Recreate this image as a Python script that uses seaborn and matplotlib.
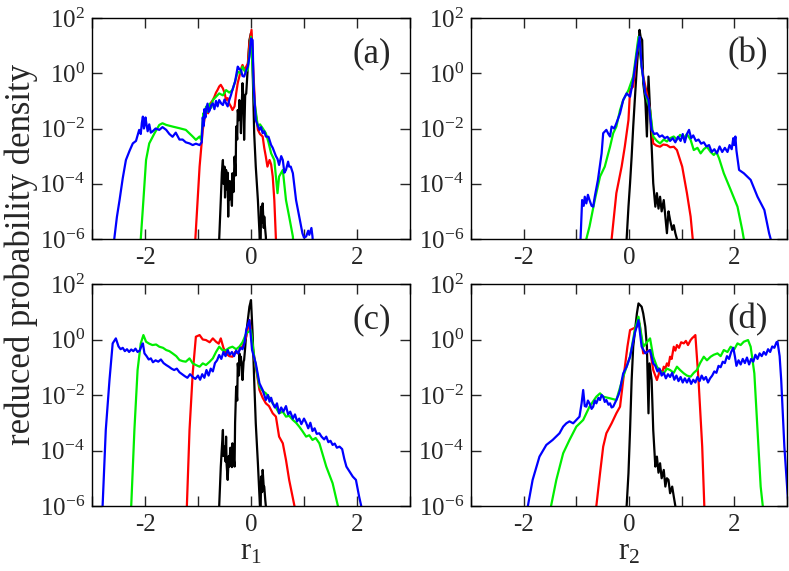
import numpy as np
import pandas as pd
import matplotlib
matplotlib.use("Agg")
import matplotlib.pyplot as plt
import seaborn as sns
from matplotlib.ticker import FixedLocator, FuncFormatter

# ---------------- data (x, log10 of density) ----------------
# panel (a)
a_black_x = [-0.61,-0.60,-0.57,-0.55,-0.53,-0.52,-0.50,-0.49,-0.47,-0.46,-0.44,-0.43,-0.42,-0.41,-0.40,-0.38,-0.36,-0.35,-0.33,-0.31,-0.29,-0.28,-0.26,-0.25,-0.23,-0.22,-0.20,-0.19,-0.17,-0.16,-0.14,-0.13,-0.11,-0.09,-0.06,-0.03,0.0,0.03,0.06,0.09,0.13,0.16,0.17,0.18,0.19,0.21,0.22,0.24,0.25,0.27,0.28,0.29]
a_black_ly = [-6.5,-6.0,-4.59,-3.6,-3.14,-4.0,-3.38,-4.5,-3.5,-4.2,-3.6,-5.19,-4.0,-4.59,-3.9,-4.10,-4.8,-3.62,-4.3,-3.02,-3.7,-1.93,-2.4,-1.33,-1.7,-0.97,-1.5,-2.17,-0.9,-0.36,-1.0,-2.41,-0.8,-0.73,0.24,1.20,1.45,0.24,-2.17,-3.38,-4.59,-5.79,-6.5,-6.5,-4.83,-5.4,-4.71,-5.6,-5.19,-5.7,-5.91,-6.5]
a_red_x = [-1.06,-1.05,-0.97,-0.91,-0.88,-0.85,-0.81,-0.78,-0.75,-0.72,-0.69,-0.66,-0.63,-0.60,-0.57,-0.53,-0.50,-0.47,-0.44,-0.41,-0.38,-0.35,-0.31,-0.28,-0.25,-0.22,-0.19,-0.16,-0.12,-0.09,-0.06,-0.03,0.01,0.04,0.08,0.13,0.17,0.22,0.25,0.28,0.31,0.35,0.38,0.41,0.44,0.47,0.48]
a_red_ly = [-6.5,-6.0,-3.38,-2.05,-1.69,-1.33,-1.45,-1.2,-1.05,-0.97,-0.85,-0.7,-0.6,-0.48,-0.42,-0.55,-0.7,-0.97,-0.9,-1.1,-1.2,-1.33,-1.2,-0.73,-0.35,-0.12,0.15,0.30,0.1,0.24,0.35,1.08,1.57,0.24,-1.33,-2.05,-2.2,-2.29,-2.7,-3.02,-3.38,-3.14,-3.3,-3.74,-4.59,-6.0,-6.5]
a_green_x = [-2.09,-2.08,-2.03,-1.98,-1.92,-1.82,-1.73,-1.67,-1.60,-1.48,-1.35,-1.23,-1.10,-1.04,-0.97,-0.94,-0.90,-0.87,-0.85,-0.81,-0.78,-0.75,-0.72,-0.66,-0.60,-0.53,-0.47,-0.41,-0.35,-0.30,-0.25,-0.20,-0.16,-0.11,-0.06,0.0,0.06,0.13,0.17,0.22,0.28,0.33,0.38,0.44,0.50,0.53,0.60,0.66,0.72,0.79,0.81]
a_green_ly = [-6.5,-6.0,-4.59,-3.14,-2.54,-2.17,-1.87,-1.81,-1.87,-1.93,-1.99,-2.05,-2.29,-2.41,-2.29,-2.41,-1.45,-1.6,-1.21,-1.4,-1.1,-1.25,-0.97,-0.85,-0.73,-0.8,-0.61,-0.7,-0.61,-0.3,0.06,0.0,0.24,0.05,0.12,1.32,-0.97,-1.93,-1.85,-1.99,-2.17,-2.5,-2.9,-3.14,-4.34,-3.74,-3.50,-4.59,-5.19,-5.91,-6.5]
a_blue_x = [-2.62,-2.58,-2.53,-2.48,-2.42,-2.36,-2.29,-2.23,-2.17,-2.11,-2.08,-2.06,-2.04,-2.02,-2.01,-1.99,-1.98,-1.95,-1.92,-1.89,-1.86,-1.80,-1.73,-1.67,-1.60,-1.54,-1.48,-1.42,-1.35,-1.29,-1.23,-1.16,-1.10,-1.04,-0.97,-0.93,-0.91,-0.89,-0.88,-0.86,-0.85,-0.82,-0.80,-0.78,-0.75,-0.72,-0.69,-0.66,-0.63,-0.60,-0.56,-0.53,-0.50,-0.47,-0.44,-0.41,-0.38,-0.35,-0.30,-0.25,-0.22,-0.19,-0.16,-0.13,-0.09,-0.06,-0.03,0.0,0.03,0.05,0.09,0.13,0.16,0.19,0.22,0.25,0.28,0.33,0.38,0.41,0.47,0.50,0.53,0.57,0.60,0.63,0.66,0.70,0.72,0.75,0.79,0.85,0.91,0.97,1.00,1.04,1.08,1.10,1.14,1.16,1.18]
a_blue_ly = [-6.5,-6.0,-5.2,-4.59,-3.8,-3.14,-2.8,-2.54,-2.45,-2.05,-2.2,-1.8,-1.57,-2.0,-1.9,-1.6,-1.75,-2.1,-1.85,-2.15,-2.11,-2.0,-2.05,-1.95,-2.05,-2.2,-2.3,-2.15,-2.4,-2.4,-2.5,-2.54,-2.6,-2.55,-2.6,-2.5,-1.6,-1.9,-1.3,-1.6,-1.33,-1.1,-1.4,-1.35,-1.15,-1.09,-1.3,-1.0,-1.2,-0.97,-1.1,-1.15,-0.95,-1.09,-1.2,-0.97,-0.8,-0.6,-0.3,0.24,0.15,0.12,-0.1,-0.12,0.1,0.24,0.6,1.26,1.2,-0.48,-1.69,-1.9,-2.05,-1.95,-2.17,-2.1,-2.29,-2.3,-2.6,-2.7,-3.0,-3.1,-3.32,-3.0,-3.14,-3.6,-3.50,-3.2,-3.38,-3.38,-3.62,-4.59,-5.19,-5.79,-5.95,-5.91,-5.7,-5.85,-5.6,-5.91,-6.5]

# panel (b)
b_black_x = [-0.05,-0.045,-0.01,0.02,0.05,0.08,0.11,0.15,0.20,0.22,0.25,0.27,0.31,0.34,0.37,0.40,0.43,0.46,0.50,0.53,0.56,0.59,0.62,0.66,0.69,0.72,0.75,0.78,0.82,0.85,0.88,0.91,0.92]
b_black_ly = [-6.5,-6.0,-4.83,-3.98,-3.02,-1.93,-0.97,0.24,1.57,1.32,1.20,-0.36,-0.97,-2.29,-0.12,-1.33,-2.66,-3.98,-4.83,-4.34,-4.9,-4.47,-5.0,-4.59,-5.19,-5.79,-5.0,-5.31,-5.67,-5.5,-5.79,-6.0,-6.5]
b_red_x = [-0.34,-0.33,-0.24,-0.14,-0.08,-0.01,0.02,0.08,0.18,0.27,0.34,0.40,0.46,0.52,0.59,0.65,0.72,0.78,0.85,0.91,1.01,1.10,1.17,1.21,1.22]
b_red_ly = [-6.5,-6.0,-4.34,-3.38,-2.66,-1.69,-0.61,-0.48,1.20,-0.12,-0.73,-1.33,-2.54,-2.62,-2.66,-2.58,-2.60,-2.68,-2.66,-2.78,-3.38,-4.34,-5.19,-6.0,-6.5]
b_green_x = [-0.82,-0.81,-0.75,-0.65,-0.55,-0.46,-0.36,-0.30,-0.24,-0.17,-0.11,-0.01,0.08,0.18,0.24,0.31,0.40,0.46,0.53,0.59,0.66,0.72,0.78,0.85,0.91,0.97,1.04,1.10,1.17,1.23,1.30,1.36,1.42,1.48,1.55,1.61,1.66,1.71,1.80,1.93,2.06,2.15,2.18,2.19]
b_green_ly = [-6.5,-6.0,-5.55,-4.59,-3.74,-3.38,-2.66,-2.17,-1.93,-1.33,-0.97,-0.61,-0.12,1.32,0.24,-0.73,-1.33,-2.29,-2.45,-2.54,-2.4,-2.47,-2.35,-2.29,-2.4,-2.23,-2.35,-2.2,-2.41,-2.78,-2.7,-2.90,-2.75,-2.66,-2.85,-2.96,-2.85,-3.08,-3.62,-4.22,-4.83,-5.67,-6.0,-6.5]
b_blue_x = [-0.93,-0.92,-0.89,-0.86,-0.84,-0.81,-0.78,-0.75,-0.71,-0.68,-0.65,-0.59,-0.52,-0.49,-0.43,-0.39,-0.36,-0.33,-0.28,-0.24,-0.17,-0.14,-0.11,-0.045,0.02,0.08,0.15,0.20,0.24,0.31,0.37,0.43,0.48,0.53,0.58,0.63,0.68,0.73,0.78,0.83,0.88,0.93,0.98,1.02,1.06,1.10,1.14,1.18,1.22,1.27,1.32,1.37,1.42,1.47,1.52,1.57,1.62,1.67,1.72,1.77,1.82,1.87,1.91,1.95,1.98,2.00,2.02,2.04,2.09,2.18,2.31,2.44,2.57,2.66,2.69,2.70]
b_blue_ly = [-6.5,-6.0,-4.59,-4.8,-4.47,-4.71,-4.4,-4.59,-4.8,-4.83,-4.47,-3.86,-2.90,-2.17,-2.05,-2.2,-2.29,-1.93,-2.0,-1.81,-1.45,-1.21,-0.97,-0.73,-0.85,-0.24,0.72,1.32,0.24,-0.73,-0.97,-2.05,-2.2,-2.17,-2.3,-2.25,-2.35,-2.3,-2.45,-2.35,-2.5,-2.3,-2.45,-2.2,-2.5,-2.2,-2.05,-2.35,-2.25,-2.45,-2.4,-2.55,-2.5,-2.65,-2.6,-2.85,-2.75,-2.9,-2.65,-2.85,-2.7,-2.85,-2.6,-2.75,-2.35,-2.6,-2.29,-2.8,-3.50,-3.62,-3.86,-4.47,-4.95,-5.79,-6.0,-6.5]

# panel (c)
c_black_x = [-0.61,-0.60,-0.57,-0.53,-0.52,-0.50,-0.48,-0.47,-0.46,-0.44,-0.42,-0.41,-0.39,-0.38,-0.36,-0.35,-0.33,-0.31,-0.30,-0.28,-0.26,-0.25,-0.23,-0.22,-0.20,-0.19,-0.17,-0.16,-0.14,-0.13,-0.11,-0.09,-0.03,0.0,0.03,0.06,0.09,0.13,0.16,0.18,0.19,0.21,0.22,0.24,0.25,0.27,0.28,0.29]
c_black_ly = [-6.5,-6.0,-4.58,-3.26,-4.2,-3.86,-4.4,-3.50,-4.5,-5.06,-4.2,-4.58,-3.9,-4.10,-4.6,-3.74,-4.2,-4.58,-3.0,-1.70,-2.2,-0.86,-1.3,-0.50,-0.9,-0.62,-1.3,-1.46,-0.8,-0.74,-0.3,0.22,1.18,1.42,0.22,-1.46,-3.02,-4.46,-5.66,-6.5,-4.94,-5.5,-4.70,-5.3,-5.30,-5.8,-6.0,-6.5]
c_red_x = [-1.22,-1.21,-1.16,-1.10,-1.04,-0.97,-0.91,-0.85,-0.78,-0.72,-0.66,-0.61,-0.57,-0.52,-0.47,-0.41,-0.35,-0.30,-0.25,-0.20,-0.16,-0.09,-0.03,0.03,0.09,0.16,0.22,0.28,0.34,0.41,0.47,0.53,0.60,0.66,0.72,0.82,0.83]
c_red_ly = [-6.5,-6.0,-3.26,-1.22,0.10,0.16,0.0,-0.02,-0.1,0.04,-0.08,-0.15,0.04,-0.3,-0.50,-0.6,-0.62,-0.45,-0.50,-0.3,-0.26,0.10,0.70,-0.26,-0.98,-1.82,-2.1,-2.30,-2.4,-2.66,-2.78,-3.50,-3.74,-4.34,-5.06,-6.0,-6.5]
c_green_x = [-2.27,-2.26,-2.20,-2.14,-2.08,-2.03,-1.98,-1.92,-1.86,-1.79,-1.73,-1.66,-1.60,-1.54,-1.48,-1.41,-1.35,-1.29,-1.23,-1.16,-1.10,-1.04,-0.97,-0.91,-0.85,-0.78,-0.72,-0.66,-0.60,-0.53,-0.47,-0.41,-0.35,-0.28,-0.22,-0.16,-0.09,0.0,0.06,0.16,0.22,0.28,0.35,0.41,0.47,0.53,0.60,0.66,0.72,0.79,0.85,0.91,0.97,1.04,1.10,1.16,1.22,1.29,1.42,1.54,1.64,1.65]
c_green_ly = [-6.5,-6.0,-3.26,-1.10,-0.14,0.16,-0.08,-0.15,-0.20,-0.18,-0.26,-0.3,-0.38,-0.42,-0.50,-0.6,-0.74,-0.78,-0.80,-0.68,-0.86,-0.92,-0.98,-0.86,-0.92,-0.8,-0.68,-0.45,-0.26,-0.4,-0.38,-0.3,-0.26,-0.35,-0.26,-0.1,0.22,0.34,-0.62,-1.70,-1.85,-1.94,-2.1,-2.30,-2.45,-2.66,-2.6,-2.78,-2.75,-2.90,-3.0,-3.14,-3.3,-3.50,-3.45,-3.62,-3.55,-3.74,-4.58,-5.18,-6.0,-6.5]
c_blue_x = [-2.81,-2.80,-2.74,-2.67,-2.61,-2.55,-2.50,-2.46,-2.42,-2.38,-2.34,-2.30,-2.26,-2.22,-2.18,-2.14,-2.10,-2.06,-2.04,-2.01,-1.97,-1.93,-1.89,-1.85,-1.80,-1.75,-1.70,-1.65,-1.60,-1.55,-1.50,-1.45,-1.40,-1.35,-1.30,-1.25,-1.20,-1.15,-1.10,-1.05,-1.00,-0.96,-0.92,-0.88,-0.84,-0.80,-0.76,-0.72,-0.68,-0.64,-0.60,-0.56,-0.52,-0.48,-0.44,-0.40,-0.36,-0.32,-0.28,-0.24,-0.20,-0.16,-0.12,-0.09,-0.03,0.02,0.09,0.16,0.22,0.28,0.32,0.35,0.38,0.41,0.45,0.49,0.53,0.57,0.61,0.66,0.70,0.74,0.79,0.83,0.87,0.91,0.95,1.00,1.04,1.08,1.12,1.16,1.20,1.24,1.29,1.33,1.38,1.42,1.46,1.50,1.54,1.58,1.62,1.67,1.72,1.76,1.80,1.92,1.98,2.04,2.08,2.09]
c_blue_ly = [-6.5,-6.0,-3.26,-1.46,-0.14,0.04,-0.25,-0.35,-0.3,-0.42,-0.35,-0.45,-0.36,-0.42,-0.33,-0.45,-0.4,-0.2,-0.14,-0.5,-0.6,-0.72,-0.68,-0.82,-0.75,-0.8,-0.72,-0.85,-0.92,-0.98,-1.05,-1.1,-1.05,-1.18,-1.25,-1.32,-1.38,-1.25,-1.35,-1.42,-1.3,-1.45,-1.25,-1.38,-1.1,-1.3,-1.05,-1.15,-0.85,-0.75,-0.56,-0.7,-0.45,-0.6,-0.38,-0.55,-0.45,-0.6,-0.4,-0.5,-0.3,-0.35,-0.1,0.34,0.70,-0.38,-0.86,-1.58,-1.82,-2.18,-2.0,-2.24,-2.1,-2.30,-2.45,-2.3,-2.66,-2.45,-2.6,-2.40,-2.7,-2.6,-2.85,-2.7,-2.95,-2.85,-3.05,-2.85,-3.0,-3.2,-3.0,-3.3,-3.2,-3.4,-3.38,-3.5,-3.6,-3.5,-3.7,-3.65,-3.8,-3.75,-3.9,-3.86,-3.95,-4.3,-4.58,-4.94,-5.06,-5.66,-6.0,-6.5]

# panel (d)
d_black_x = [-0.05,-0.045,-0.01,0.02,0.05,0.08,0.15,0.18,0.24,0.27,0.31,0.34,0.37,0.39,0.43,0.46,0.50,0.53,0.56,0.59,0.62,0.66,0.69,0.72,0.75,0.78,0.82,0.85,0.88,0.89]
d_black_ly = [-6.5,-6.0,-4.82,-3.26,-1.46,-0.26,0.94,1.30,1.18,0.94,0.46,-0.26,-2.66,-0.86,-1.46,-3.26,-4.58,-4.22,-4.8,-4.46,-5.0,-4.70,-5.30,-5.0,-5.06,-5.54,-5.3,-5.66,-6.0,-6.5]
d_red_x = [-0.63,-0.62,-0.55,-0.49,-0.43,-0.33,-0.24,-0.17,-0.11,-0.03,0.02,0.15,0.20,0.27,0.40,0.46,0.53,0.59,0.63,0.66,0.69,0.72,0.75,0.78,0.81,0.85,0.88,0.91,0.95,0.99,1.04,1.08,1.12,1.17,1.20,1.23,1.26,1.32,1.39,1.43,1.44]
d_red_ly = [-6.5,-6.0,-4.82,-3.86,-3.38,-3.02,-2.66,-2.42,-1.46,-0.26,0.34,0.46,0.58,-0.50,-0.38,-1.10,-1.46,-1.10,-1.2,-0.98,-1.05,-0.86,-0.95,-0.62,-0.7,-0.26,-0.4,-0.20,-0.3,-0.1,-0.14,-0.05,-0.2,-0.02,0.05,0.10,0.16,-1.46,-3.86,-6.0,-6.5]
d_green_x = [-1.49,-1.48,-1.38,-1.25,-1.13,-1.00,-0.87,-0.75,-0.62,-0.55,-0.49,-0.36,-0.24,-0.11,0.02,0.11,0.18,0.27,0.40,0.46,0.53,0.60,0.66,0.72,0.78,0.85,0.91,0.97,1.04,1.10,1.17,1.23,1.29,1.35,1.42,1.48,1.55,1.61,1.68,1.74,1.80,1.87,1.93,2.00,2.06,2.12,2.18,2.26,2.31,2.38,2.44,2.50,2.54,2.55]
d_green_ly = [-6.5,-6.0,-5.06,-4.10,-3.62,-3.14,-2.90,-2.42,-2.06,-1.94,-2.06,-2.12,-2.18,-1.34,-0.62,0.34,0.82,-0.26,0.04,-0.62,-0.98,-1.15,-1.22,-1.05,-1.10,-1.2,-0.98,-1.1,-1.22,-1.3,-1.34,-1.2,-1.10,-0.85,-0.62,-0.75,-0.62,-0.55,-0.50,-0.6,-0.38,-0.45,-0.26,-0.35,-0.14,-0.2,-0.08,-0.02,-0.26,-1.22,-3.26,-5.30,-6.0,-6.5]
d_blue_x = [-1.93,-1.92,-1.83,-1.70,-1.57,-1.45,-1.32,-1.25,-1.19,-1.13,-1.06,-1.00,-0.94,-0.90,-0.87,-0.84,-0.81,-0.78,-0.75,-0.71,-0.68,-0.65,-0.62,-0.58,-0.55,-0.52,-0.49,-0.46,-0.43,-0.39,-0.36,-0.33,-0.30,-0.27,-0.24,-0.20,-0.17,-0.14,-0.11,-0.045,0.02,0.11,0.18,0.24,0.31,0.40,0.46,0.50,0.54,0.58,0.62,0.66,0.70,0.74,0.78,0.82,0.86,0.90,0.94,0.98,1.02,1.06,1.10,1.14,1.18,1.22,1.26,1.30,1.34,1.38,1.42,1.46,1.50,1.54,1.58,1.62,1.66,1.70,1.74,1.78,1.82,1.86,1.90,1.94,1.98,2.01,2.04,2.08,2.12,2.16,2.20,2.24,2.28,2.32,2.36,2.40,2.44,2.48,2.52,2.56,2.60,2.64,2.68,2.72,2.76,2.80,2.82,2.86,2.89,2.95,3.01,3.05]
d_blue_ly = [-6.5,-6.0,-5.06,-4.22,-3.80,-3.62,-3.38,-3.14,-3.02,-2.95,-3.02,-2.90,-2.78,-2.30,-1.82,-2.4,-2.42,-2.2,-2.30,-2.5,-2.42,-2.2,-2.30,-2.1,-2.18,-2.0,-2.06,-2.25,-2.18,-2.35,-2.30,-2.45,-2.42,-2.3,-2.18,-2.0,-1.82,-1.5,-1.22,-0.98,-0.62,0.22,0.70,-0.26,-0.50,-0.38,-0.86,-0.95,-1.15,-1.05,-1.3,-1.2,-1.4,-1.25,-1.35,-1.2,-1.45,-1.3,-1.5,-1.35,-1.55,-1.4,-1.55,-1.4,-1.6,-1.45,-1.55,-1.35,-1.5,-1.3,-1.45,-1.35,-1.55,-1.4,-1.3,-1.15,-1.2,-0.95,-1.0,-0.8,-0.85,-0.6,-0.7,-0.45,-0.3,-0.6,-0.95,-0.75,-0.9,-0.7,-0.85,-0.65,-0.9,-0.7,-0.8,-0.55,-0.7,-0.5,-0.6,-0.45,-0.55,-0.35,-0.45,-0.25,-0.3,-0.1,-0.08,-0.6,-1.46,-3.86,-5.54,-6.5]

panel_names = ["(a)", "(b)", "(c)", "(d)"]
x_labels = ["r$_1$", "r$_2$"]
y_label = "reduced probability density"
series_colors = {"black": "#000000", "red": "#ff0000", "green": "#00ee00", "blue": "#0000ff"}

panels = {
    "(a)": [("black", a_black_x, a_black_ly), ("red", a_red_x, a_red_ly), ("green", a_green_x, a_green_ly), ("blue", a_blue_x, a_blue_ly)],
    "(b)": [("black", b_black_x, b_black_ly), ("red", b_red_x, b_red_ly), ("green", b_green_x, b_green_ly), ("blue", b_blue_x, b_blue_ly)],
    "(c)": [("black", c_black_x, c_black_ly), ("red", c_red_x, c_red_ly), ("green", c_green_x, c_green_ly), ("blue", c_blue_x, c_blue_ly)],
    "(d)": [("black", d_black_x, d_black_ly), ("red", d_red_x, d_red_ly), ("green", d_green_x, d_green_ly), ("blue", d_blue_x, d_blue_ly)],
}

# ---------------- style ----------------
sns.set_style("ticks")
plt.rcParams["font.family"] = ["Liberation Serif", "DejaVu Serif"]
plt.rcParams["mathtext.fontset"] = "custom"
plt.rcParams["mathtext.rm"] = "Liberation Serif"
plt.rcParams["mathtext.it"] = "Liberation Serif:italic"
plt.rcParams["axes.unicode_minus"] = False

fig = plt.figure(figsize=(7.89, 5.71), dpi=100)
W, H = 789, 571
boxes = {  # pixel boxes: left, top, right, bottom
    "(a)": (92, 18, 410, 239),
    "(b)": (471, 18, 787, 239),
    "(c)": (92, 284, 410, 506),
    "(d)": (471, 284, 787, 506),
}

def yfmt(v, pos):
    e = int(round(np.log10(v)))
    return r"$\mathregular{10^{%d}}$" % e

for i, name in enumerate(panel_names):
    l, t, r, b = boxes[name]
    ax = fig.add_axes([l / W, 1 - b / H, (r - l) / W, (b - t) / H])
    for col, xs, lys in panels[name]:
        df = pd.DataFrame({"x": xs, "y": 10.0 ** np.array(lys)})
        sns.lineplot(data=df, x="x", y="y", color=series_colors[col], lw=1.6,
                     sort=False, estimator=None, ax=ax)
    ax.set_yscale("log")
    ax.set_xlim(-3, 3)
    ax.set_ylim(1e-6, 1e2)
    ax.xaxis.set_major_locator(FixedLocator([-3, -2, -1, 0, 1, 2, 3]))
    ax.xaxis.set_major_formatter(FuncFormatter(lambda v, p: ("%d" % v) if int(round(v)) in (-2, 0, 2) else ""))
    ax.yaxis.set_major_locator(FixedLocator([1e-6, 1e-4, 1e-2, 1e0, 1e2]))
    ax.yaxis.set_minor_locator(FixedLocator([]))
    ax.yaxis.set_major_formatter(FuncFormatter(yfmt))
    ax.tick_params(direction="in", length=7, width=1, top=True, right=True,
                   labelsize=18, pad=5)
    ax.tick_params(axis="x", pad=6)
    for s in ax.spines.values():
        s.set_linewidth(1.0)
        s.set_color("black")
    ax.set_xlabel("")
    ax.set_ylabel("")
    ax.text(0.94, 0.84, name, transform=ax.transAxes, ha="right", va="center", fontsize=25)
    if i >= 2:
        ax.set_xlabel(x_labels[i - 2], fontsize=22, labelpad=1)

fig.text(21 / W, 1 - 254 / H, y_label, rotation=90, ha="center", va="center", fontsize=25)
fig.savefig("out.png", dpi=100)
